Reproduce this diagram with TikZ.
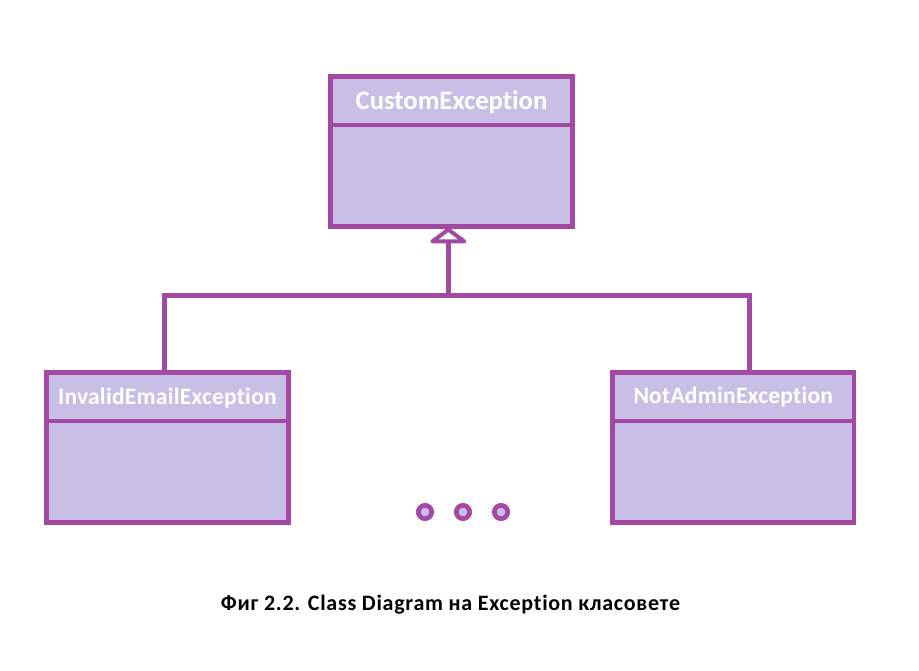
\documentclass[tikz,border=0pt]{standalone}
\usepackage{fontspec}
\setmainfont{Carlito}[Ligatures=NoCommon]
\definecolor{umlborder}{HTML}{A349A4}
\definecolor{umlfill}{HTML}{C8BFE7}
\begin{document}
\begin{tikzpicture}[x=1pt,y=-1pt,
  classbox/.style={draw=umlborder, fill=umlfill, line width=4.7pt, minimum width=242pt, minimum height=150pt, inner sep=0pt, outer sep=0pt},
  classtitle/.style={text=white, inner sep=0pt, anchor=base},
  maintitle/.style={classtitle, font=\bfseries\fontsize{26.67}{30}\selectfont},
  subtitle/.style={classtitle, font=\bfseries\addfontfeature{LetterSpace=1}\fontsize{23.5}{28}\selectfont},
  divider/.style={draw=umlborder, line width=4.7pt},
  conn/.style={draw=umlborder, line width=4.7pt, line join=miter},
  inherit/.style={draw=umlborder, fill=white, line width=4pt, line join=round},
  dotmark/.style={circle, draw=umlborder, fill=umlfill, line width=4.7pt, minimum size=13.4pt, inner sep=0pt},
  captionstyle/.style={font=\bfseries\addfontfeature{LetterSpace=3.3}\fontsize{22}{26}\selectfont, anchor=base, inner sep=0pt},
]
\useasboundingbox (0,0) rectangle (919,671);
% classes
\node[classbox] (ce) at (451.5,151.5) {};
\node[classbox, minimum height=149.8pt] (ie) at (167.4,447.4) {};
\node[classbox, minimum height=149.8pt, minimum width=241.5pt] (na) at (733.25,447.4) {};
\draw[divider] ([yshift=-48.5pt]ce.north west) -- ([yshift=-48.5pt]ce.north east);
\draw[divider] ([yshift=-48.5pt]ie.north west) -- ([yshift=-48.5pt]ie.north east);
\draw[divider] ([yshift=-48.5pt]na.north west) -- ([yshift=-48.5pt]na.north east);
\node[maintitle] (cet) at ([yshift=-33pt]ce.north) {CustomException};
\node[subtitle] (iet) at ([yshift=-32pt]ie.north) {InvalidEmailException};
\node[subtitle] (nat) at ([yshift=-31pt]na.north) {NotAdminException};
% connectors
\coordinate (jl) at (164.3,295.5);
\coordinate (jr) at (749.5,295.5);
\coordinate (jm) at (448.3,295.5);
\coordinate (apex) at ([yshift=-3pt]jm |- ce.south);
\coordinate (tbase) at ([yshift=-12pt]apex);
\draw[conn] (jl |- ie.north) -- (jl) -- (jr) -- (jr |- na.north);
\draw[conn] (jm) -- (tbase);
\draw[inherit] (apex) -- ([xshift=-16pt]tbase) -- ([xshift=16pt]tbase) -- cycle;
% dots
\node[dotmark] (d1) at (425,512) {};
\node[dotmark] (d2) at (463,512) {};
\node[dotmark] (d3) at (501,512) {};
% caption
\node[captionstyle] (cap) at (450.5,610) {Фиг 2.2. Class Diagram на Exception класовете};
\end{tikzpicture}
\end{document}
